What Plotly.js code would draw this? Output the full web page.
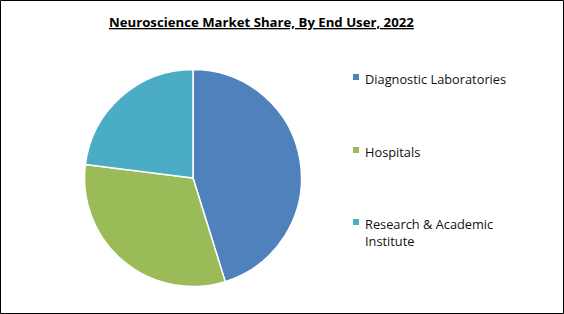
<!DOCTYPE html>
<html><head><meta charset="utf-8">
<script src="https://cdn.plot.ly/plotly-3.0.1.min.js"></script>
<style>html,body{margin:0;padding:0;background:#fff}#chart{width:564px;height:314px}</style>
</head><body><div id="chart"></div>
<script>
const labels = ["Diagnostic Laboratories", "Hospitals", "Research & Academic<br>Institute"];
const values = [45.2, 31.8, 23.0];
const colors = ["#4F81BD", "#9BBB59", "#4BACC6"];
const W = 564, H = 314;
const cx = 193, cy = 178, r = 108.5;
const legendY = [77, 150, 222];
const font = "Open Sans, sans-serif";

const annotations = [{
  text: "<b><u>Neuroscience Market Share, By End User, 2022</u></b>",
  xref: "paper", yref: "paper", x: 261 / W, y: 1 - 22 / H,
  xanchor: "center", yanchor: "middle", showarrow: false,
  font: {family: font, size: 13.2, color: "#000"}
}];
const shapes = [{
  type: "rect", xref: "paper", yref: "paper",
  x0: 0.5 / W, x1: 1 - 0.5 / W, y0: 0.5 / H, y1: 1 - 0.5 / H,
  line: {color: "#000", width: 1}, fillcolor: "rgba(0,0,0,0)"
}];
labels.forEach((lab, i) => {
  const yc = legendY[i];
  shapes.push({
    type: "rect", xref: "paper", yref: "paper",
    x0: 353 / W, x1: 359 / W, y0: 1 - (yc + 3) / H, y1: 1 - (yc - 3) / H,
    line: {width: 0}, fillcolor: colors[i]
  });
  annotations.push({
    text: lab, xref: "paper", yref: "paper", x: 363 / W, y: 1 - (yc - 9.5) / H,
    xanchor: "left", yanchor: "top", align: "left", showarrow: false,
    font: {family: font, size: 12.8, color: "#111"}
  });
});

Plotly.newPlot("chart", [{
  type: "pie", labels: labels, values: values,
  marker: {colors: colors, line: {color: "#fff", width: 1.5}},
  sort: false, direction: "clockwise", rotation: 0,
  textinfo: "none", hoverinfo: "label+percent",
  domain: {x: [(cx - r) / W, (cx + r) / W], y: [1 - (cy + r) / H, 1 - (cy - r) / H]}
}], {
  width: W, height: H, margin: {l: 0, r: 0, t: 0, b: 0},
  paper_bgcolor: "#fff", showlegend: false,
  annotations: annotations, shapes: shapes
}, {staticPlot: true});
</script></body></html>
